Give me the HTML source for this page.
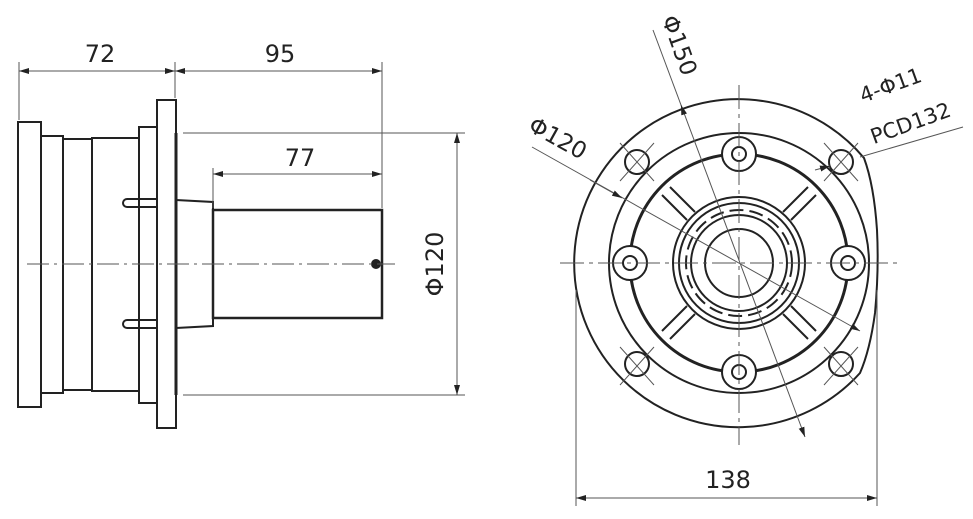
<!DOCTYPE html>
<html><head><style>body{margin:0;background:#fff}svg{display:block}text{font-family:"DejaVu Sans","Liberation Sans",sans-serif;fill:#222}</style></head>
<body>
<svg width="973" height="519" viewBox="0 0 973 519" xmlns="http://www.w3.org/2000/svg">
<defs>
<marker id="a" viewBox="0 0 10 6" refX="10" refY="3" markerWidth="10" markerHeight="6" orient="auto-start-reverse" markerUnits="userSpaceOnUse"><path d="M0,0L10,3L0,6z" fill="#222"/></marker>
</defs>
<g stroke="#222" fill="none" stroke-width="2">
<!-- left view -->
<rect x="18" y="122" width="23" height="285" fill="#fff"/>
<rect x="41" y="136" width="22" height="257"/>
<rect x="63" y="139" width="29" height="251"/>
<rect x="92" y="138" width="47" height="253"/>
<rect x="139" y="127" width="18" height="276"/>
<rect x="157" y="100" width="19" height="328" fill="#fff"/>
<line x1="176" y1="133" x2="176" y2="395" stroke-width="3"/>
<path d="M176,200 L213,202 L213,326 L176,328"/>
<rect x="213" y="210" width="169" height="108" stroke-width="2.5"/>
<path d="M157,199 L127,199 A4,4 0 0 0 127,207 L157,207"/>
<path d="M157,320 L127,320 A4,4 0 0 0 127,328 L157,328"/>
<circle cx="376" cy="264" r="4" fill="#222"/>
</g>
<g stroke="#555" stroke-width="1" fill="none">
<line x1="27" y1="264" x2="395" y2="264" stroke-dasharray="22,5,3,5"/>
<line x1="19" y1="62" x2="19" y2="120"/>
<line x1="175" y1="62" x2="175" y2="98"/>
<line x1="382" y1="62" x2="382" y2="208"/>
<line x1="19" y1="71" x2="175" y2="71" marker-start="url(#a)" marker-end="url(#a)"/>
<line x1="175" y1="71" x2="382" y2="71" marker-start="url(#a)" marker-end="url(#a)"/>
<line x1="213" y1="168" x2="213" y2="208"/>
<line x1="213" y1="174" x2="382" y2="174" marker-start="url(#a)" marker-end="url(#a)"/>
<line x1="183" y1="133" x2="465" y2="133"/>
<line x1="183" y1="395" x2="465" y2="395"/>
<line x1="457" y1="133" x2="457" y2="395" marker-start="url(#a)" marker-end="url(#a)"/>
</g>
<text x="100" y="62" font-size="24" text-anchor="middle">72</text>
<text x="280" y="62" font-size="24" text-anchor="middle">95</text>
<text x="300" y="166" font-size="24" text-anchor="middle">77</text>
<text transform="translate(443,264) rotate(-90)" font-size="24" text-anchor="middle">Φ120</text>

<!-- right view -->
<g stroke="#222" fill="none" stroke-width="2">
<path d="M864,158 A164,164 0 1 0 860,373 Q870,350 875,313 Q879,270 877,230 Q874,185 864,158 Z"/>
<circle cx="739" cy="263" r="130"/>
<circle cx="739" cy="263" r="109" stroke-width="3"/>
<g fill="#fff">
<circle cx="739" cy="154" r="17"/><circle cx="739" cy="372" r="17"/>
<circle cx="630" cy="263" r="17"/><circle cx="848" cy="263" r="17"/>
</g>
<circle cx="739" cy="154" r="7"/><circle cx="739" cy="372" r="7"/>
<circle cx="630" cy="263" r="7"/><circle cx="848" cy="263" r="7"/>
<g stroke-width="2">
<path d="M687,220 L662,195 M695,212 L670,187"/>
<path d="M791,220 L816,195 M783,212 L808,187"/>
<path d="M687,306 L662,331 M695,314 L670,339"/>
<path d="M791,306 L816,331 M783,314 L808,339"/>
</g>
<circle cx="739" cy="263" r="66" fill="#fff"/>
<circle cx="739" cy="263" r="60"/>
<circle cx="739" cy="263" r="53" stroke-dasharray="14,6"/>
<circle cx="739" cy="263" r="48"/>
<circle cx="739" cy="263" r="34"/>
<circle cx="637" cy="162" r="12"/><circle cx="841" cy="162" r="12"/>
<circle cx="637" cy="364" r="12"/><circle cx="841" cy="364" r="12"/>
</g>
<g stroke="#555" stroke-width="1" fill="none">
<line x1="560" y1="263" x2="900" y2="263" stroke-dasharray="24,5,4,5"/>
<line x1="739" y1="85" x2="739" y2="445" stroke-dasharray="24,5,4,5"/>
<path d="M620,143 L654,181 M654,143 L620,181 M824,143 L858,181 M858,143 L824,181 M620,347 L654,385 M654,347 L620,385 M824,347 L858,385 M858,347 L824,385"/>
<line x1="653" y1="30" x2="805" y2="437" marker-end="url(#a)"/>
<line x1="681" y1="105" x2="682" y2="108" marker-start="url(#a)"/>
<line x1="532" y1="147" x2="860" y2="331" marker-end="url(#a)"/>
<line x1="590" y1="180" x2="622" y2="198" marker-end="url(#a)"/>
<line x1="963" y1="127" x2="860" y2="157"/>
<line x1="815" y1="170" x2="830" y2="166" marker-end="url(#a)"/>
<line x1="576" y1="290" x2="576" y2="506"/>
<line x1="877" y1="290" x2="877" y2="506"/>
<line x1="576" y1="498" x2="877" y2="498" marker-start="url(#a)" marker-end="url(#a)"/>
</g>
<text x="728" y="488" font-size="24" text-anchor="middle">138</text>
<text transform="translate(672,48) rotate(70)" font-size="23" text-anchor="middle">Φ150</text>
<text transform="translate(554,145) rotate(29)" font-size="23" text-anchor="middle">Φ120</text>
<text transform="translate(893,92) rotate(-20)" font-size="21" text-anchor="middle">4-Φ11</text>
<text transform="translate(913,130) rotate(-20)" font-size="21" text-anchor="middle">PCD132</text>
</svg>
</body></html>
